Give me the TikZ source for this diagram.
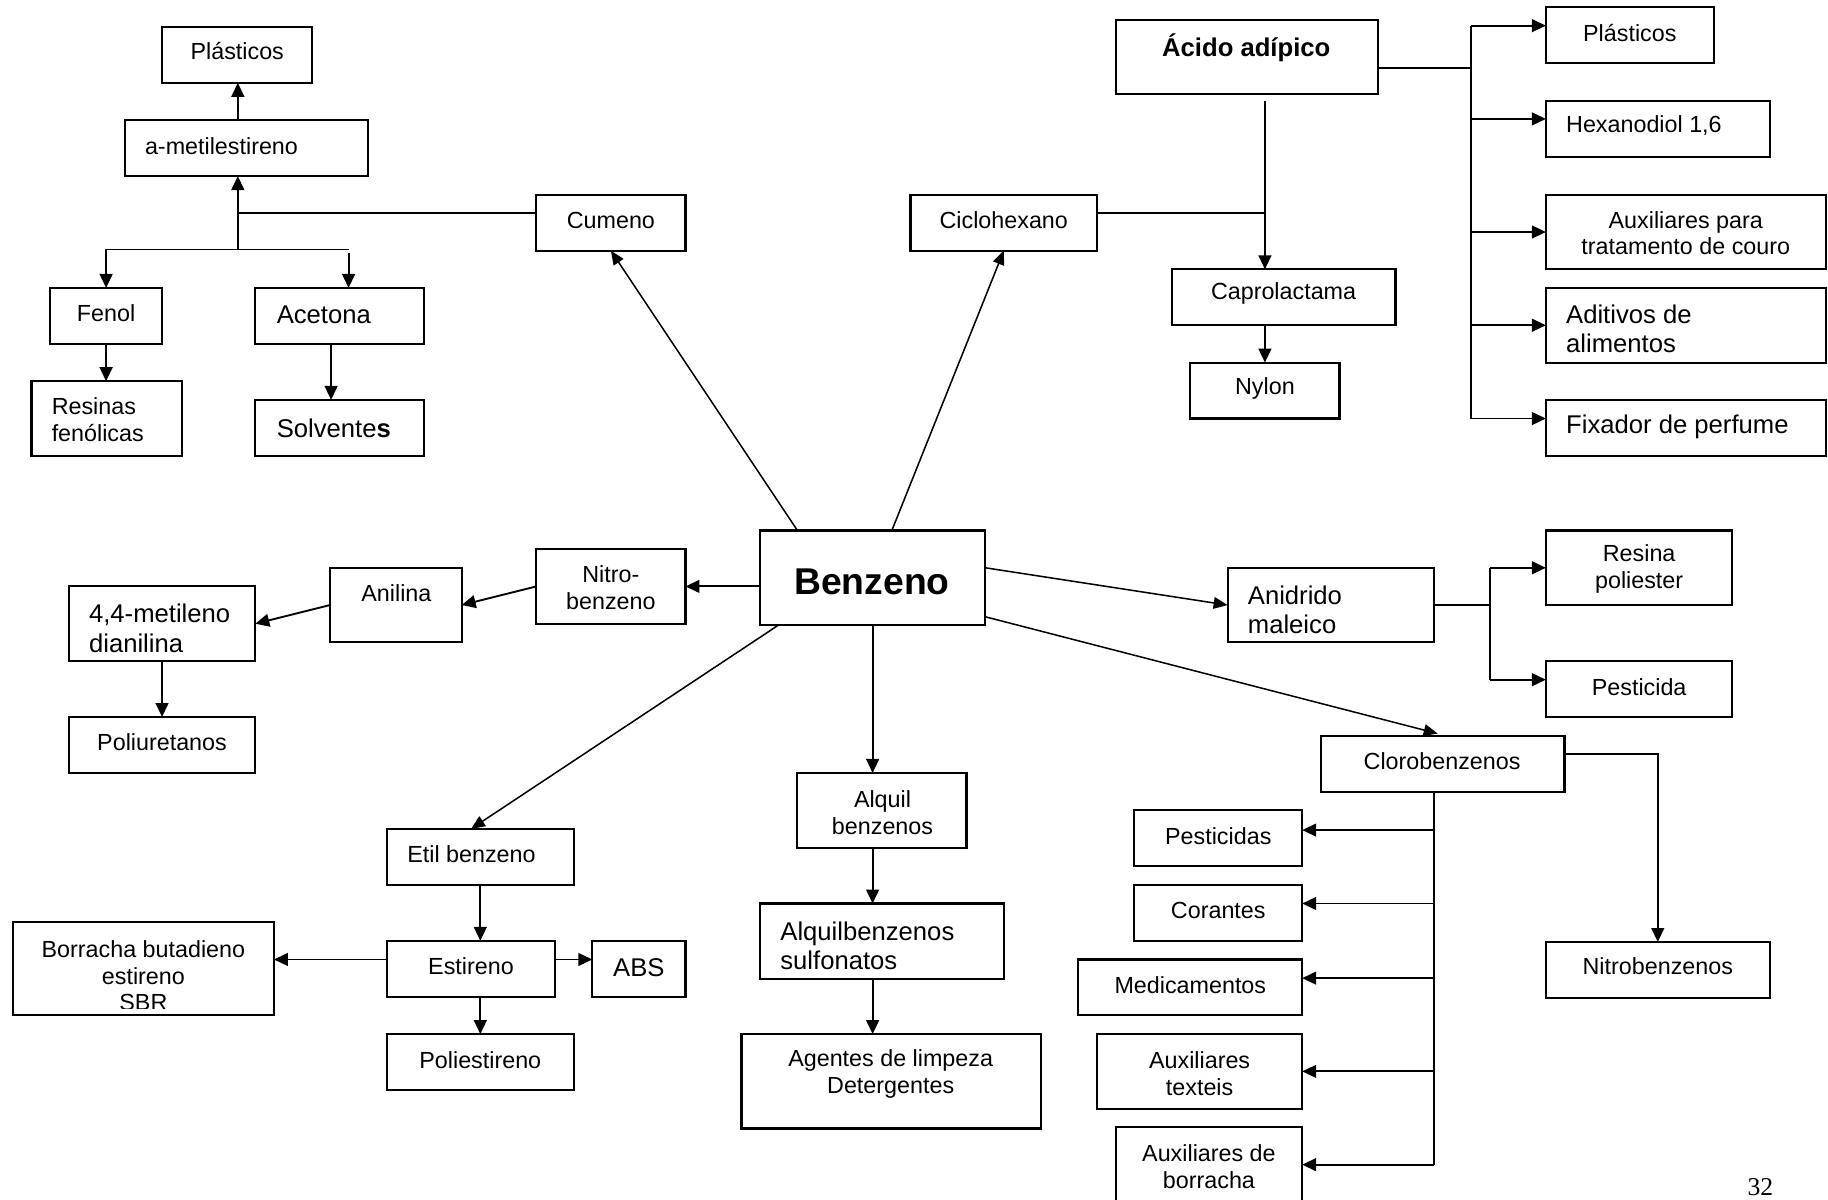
\documentclass[tikz,border=0pt]{standalone}
\usepackage{fontspec}
\setmainfont{Liberation Sans}
\newfontfamily\pgnum{Liberation Serif}
\usetikzlibrary{arrows.meta,fit}
\tikzset{
  box/.style={draw, line width=0.9pt, inner sep=0pt, outer sep=0pt},
  con/.style={line width=0.8pt},
  thin con/.style={line width=0.65pt},
  arr/.style={con, -{Triangle[length=6pt,width=5.5pt]}},
  darr/.style={thin con, -{Triangle[length=6pt,width=5pt]}},
  st/.style={font=\fontsize{10}{11.5}\selectfont, inner sep=0pt},
  lt/.style={font=\fontsize{11}{12.5}\selectfont, inner sep=0pt},
}
\begin{document}
\begin{tikzpicture}[x=0.5pt,y=-0.5pt]
\useasboundingbox (0,0) rectangle (1568,1029);
% ---------- boxes ----------
\node[box, fit={(139,23) (268,71)}] (plast1) {};
\node[box, fit={(107,103) (316,151)}] (ametil) {};
\node[box, fit={(460,167) (588,215)}] (cumeno) {};
\node[box, fit={(43,247) (139,295)}] (fenol) {};
\node[box, fit={(219,247) (364,295)}] (acetona) {};
\node[box, fit={(27,327) (156,391)}] (resinas) {};
\node[box, fit={(219,343) (364,391)}] (solventes) {};
\node[box, fit={(781,167) (941,215)}] (ciclo) {};
\node[box, fit={(957,17) (1182,81)}] (acido) {};
\node[box, fit={(1005,231) (1197,279)}] (caprol) {};
\node[box, fit={(1021,311) (1149,359)}] (nylon) {};
\node[box, fit={(1326,6) (1470,54)}] (plast2) {};
\node[box, fit={(1326,87) (1518,135)}] (hexa) {};
\node[box, fit={(1326,167) (1566,231)}] (aux) {};
\node[box, fit={(1326,247) (1566,311)}] (aditivos) {};
\node[box, fit={(1326,343) (1566,391)}] (fixador) {};
\node[box, line width=1pt, fit={(652,455) (845,536)}] (benzeno) {};
\node[box, fit={(460,471) (588,535)}] (nitro) {};
\node[box, fit={(283,487) (396,551)}] (anilina) {};
\node[box, fit={(59,503) (219,567)}] (metileno) {};
\node[box, fit={(59,615) (219,663)}] (poliur) {};
\node[box, fit={(1053,487) (1230,551)}] (anidrido) {};
\node[box, fit={(1326,455) (1486,519)}] (resina) {};
\node[box, fit={(1326,567) (1486,615)}] (pesticida) {};
\node[box, fit={(1133,631) (1342,679)}] (cloro) {};
\node[box, fit={(973,695) (1117,743)}] (pesticidas) {};
\node[box, fit={(973,759) (1117,807)}] (corantes) {};
\node[box, fit={(925,823) (1117,871)}] (medic) {};
\node[box, fit={(941,887) (1117,951)}] (auxtex) {};
\node[box, fit={(957,967) (1117,1045)}] (auxbor) {};
\node[box, fit={(1326,808) (1518,856)}] (nitrobz) {};
\node[box, fit={(684,663) (829,727)}] (alquil) {};
\node[box, fit={(652,775) (861,840)}] (alqsulf) {};
\node[box, fit={(636,887) (893,968)}] (agentes) {};
\node[box, fit={(332,711) (492,759)}] (etil) {};
\node[box, fit={(332,807) (476,855)}] (estireno) {};
\node[box, fit={(508,807) (588,855)}] (abs) {};
\node[box, fit={(11,791) (235,871)}] (sbr) {};
\node[box, fit={(332,887) (492,935)}] (poliest) {};
% ---------- texts ----------
\node[st] (t-plast1) at (203.5,44) {Plásticos};
\node[st, anchor=west] (t-ametil) at (124,125) {a-metilestireno};
\node[st] (t-cumeno) at (524,189) {Cumeno};
\node[st] (t-fenol) at (91,269) {Fenol};
\node[lt, anchor=west] (t-acetona) at (237,270) {Acetona};
\node[st, anchor=west, align=left] (t-resinas) at (44,360) {Resinas\\fenólicas};
\node[lt, anchor=west] (t-solventes) at (237,367) {Solvente\textbf{s}};
\node[st] (t-ciclo) at (861,189) {Ciclohexano};
\node[lt, font=\fontsize{11}{12.5}\selectfont\bfseries] (t-acido) at (1069,41) {Ácido adípico};
\node[st] (t-caprol) at (1101,252) {Caprolactama};
\node[st] (t-nylon) at (1085,333) {Nylon};
\node[st] (t-plast2) at (1398,28) {Plásticos};
\node[st, anchor=west] (t-hexa) at (1343,108) {Hexanodiol 1,6};
\node[st, align=center] (t-aux) at (1446,200) {Auxiliares para\\tratamento de couro};
\node[lt, anchor=west, align=left] (t-aditivos) at (1343,282) {Aditivos de\\alimentos};
\node[lt, anchor=west] (t-fixador) at (1343,366) {Fixador de perfume};
\node[inner sep=0pt, font=\fontsize{16}{18}\selectfont\bfseries] (t-benzeno) at (748,499) {Benzeno};
\node[st, align=center] (t-nitro) at (524,504) {Nitro-\\benzeno};
\node[st] (t-anilina) at (340,509) {Anilina};
\node[lt, anchor=west, align=left] (t-metileno) at (76,539) {4,4-metileno\\dianilina};
\node[st] (t-poliur) at (139,637) {Poliuretanos};
\node[lt, anchor=west, align=left] (t-anidrido) at (1070,523) {Anidrido\\maleico};
\node[st, align=center] (t-resina) at (1406,488) {Resina\\poliester};
\node[st] (t-pesticida) at (1406,589) {Pesticida};
\node[st] (t-cloro) at (1237,653) {Clorobenzenos};
\node[st] (t-pesticidas) at (1045,717) {Pesticidas};
\node[st] (t-corantes) at (1045,781) {Corantes};
\node[st] (t-medic) at (1021,845) {Medicamentos};
\node[st, align=center] (t-auxtex) at (1029,921) {Auxiliares\\texteis};
\node[st, align=center] (t-auxbor) at (1037,1001) {Auxiliares de\\borracha};
\node[st] (t-nitrobz) at (1422,829) {Nitrobenzenos};
\node[st, align=center] (t-alquil) at (757,697) {Alquil\\benzenos};
\node[lt, anchor=west, align=left] (t-alqsulf) at (669,811) {Alquilbenzenos\\sulfonatos};
\node[st, align=center] (t-agentes) at (764,921) {Agentes de limpeza\\Detergentes};
\node[st, anchor=west] (t-etil) at (349,733) {Etil benzeno};
\node[st] (t-estireno) at (404,829) {Estireno};
\node[lt] (t-abs) at (548,830) {ABS};
\begin{scope}
  \clip (11,791) rectangle (235,865);
  \node[st, align=center] (t-sbr) at (123,837) {Borracha butadieno\\estireno\\SBR};
\end{scope}
\node[st] (t-poliest) at (412,909) {Poliestireno};
\node[inner sep=0pt, font=\pgnum\fontsize{11}{13}\selectfont] (pg) at (1510,1018) {32};
% ---------- connectors: cumeno ----------
\coordinate (j1) at (204,183);
\coordinate (j2) at (204,214);
\coordinate (jf) at (91,214);
\coordinate (ja) at (299,214);
\draw[con] ([yshift=4pt]cumeno.west) -- (j1);
\draw[arr] (j2) -- (j2 |- ametil.south);
\draw[con] (jf) -- (ja);
\draw[arr] (jf) -- (jf |- fenol.north);
\draw[arr] ([yshift=-1.5pt]ja) -- (ja |- acetona.north);
\draw[arr] (ametil.north -| j2) -- (plast1.south -| j2);
\draw[arr] (fenol.south) -- (resinas.north -| fenol.south);
\draw[arr] ([xshift=-3.75pt]acetona.south) -- ([xshift=-3.75pt]acetona.south |- solventes.north);
% ---------- ciclohexano / acido ----------
\coordinate (jk) at (1085,183);
\coordinate (ak) at (1085,87);
\draw[con] ([yshift=4pt]ciclo.east) -- (jk);
\draw[arr] (ak) -- (ak |- caprol.north);
\draw[arr] (caprol.south -| ak) -- (nylon.north -| ak);
\coordinate (r0) at (1262,58);
\coordinate (r1) at (1262,22);
\coordinate (r2) at (1262,102);
\coordinate (r3) at (1262,199);
\coordinate (r4) at (1262,279);
\coordinate (r5) at (1262,359);
\draw[con] ([yshift=-4.5pt]acido.east) -- (r0);
\draw[con] (r1) -- (r5);
\draw[arr] (r1) -- (r1 -| plast2.west);
\draw[arr] (r2) -- (r2 -| hexa.west);
\draw[arr] (r3) -- (r3 -| aux.west);
\draw[arr] (r4) -- (r4 -| aditivos.west);
\draw[arr] (r5) -- (r5 -| fixador.west);
% ---------- benzeno ----------
\draw[darr] ([xshift=-32.25pt]benzeno.north) -- (cumeno.south);
\draw[darr] ([xshift=8.25pt]benzeno.north) -- (ciclo.south);
\draw[arr] (benzeno.west |- nitro.east) -- (nitro.east);
\draw[arr] (nitro.west) -- (anilina.east);
\draw[arr] (anilina.west) -- (metileno.east);
\draw[arr] (metileno.south) -- (poliur.north);
\draw[darr] ([yshift=4.25pt]benzeno.east) -- (anidrido.west);
\coordinate (jm) at (1278,519);
\coordinate (jm1) at (1278,487);
\coordinate (jm2) at (1278,583);
\draw[con] (anidrido.east) -- (jm);
\draw[con] (jm1) -- (jm2);
\draw[arr] (jm1) -- (jm1 -| resina.west);
\draw[arr] (jm2) -- (jm2 -| pesticida.west);
\draw[darr, shorten >=3.5pt] ([yshift=-16.75pt]benzeno.east) -- ([xshift=1.25pt]cloro.north);
\draw[arr] (benzeno.south) -- (benzeno.south |- alquil.north);
\draw[arr] ([xshift=-4pt]alquil.south) -- ([xshift=-4pt]alquil.south |- alqsulf.north);
\draw[arr] ([xshift=-4pt]alqsulf.south) -- ([xshift=-4pt]alqsulf.south |- agentes.north);
\draw[darr] ([xshift=-40.25pt]benzeno.south) -- ([xshift=-4pt]etil.north);
\draw[arr] (etil.south) -- (etil.south |- estireno.north);
\draw[arr] (estireno.south -| etil.south) -- (poliest.north);
\draw[arr] ([yshift=4pt]estireno.west) -- ([yshift=4pt]estireno.west -| sbr.east);
\draw[arr] ([yshift=4pt]estireno.east) -- ([yshift=4pt]estireno.east -| abs.west);
% ---------- clorobenzenos ----------
\coordinate (c0) at (1230,679);
\coordinate (c1) at (1230,712);
\coordinate (c2) at (1230,775);
\coordinate (c3) at (1230,839);
\coordinate (c4) at (1230,919);
\coordinate (c5) at (1230,999);
\draw[con] (c0) -- (c5);
\draw[arr] (c1) -- (c1 -| pesticidas.east);
\draw[arr] (c2) -- (c2 -| corantes.east);
\draw[arr] (c3) -- (c3 -| medic.east);
\draw[arr] (c4) -- (c4 -| auxtex.east);
\draw[arr] (c5) -- (c5 -| auxbor.east);
\draw[arr] ([yshift=4pt]cloro.east) -| (nitrobz.north);
\end{tikzpicture}
\end{document}
